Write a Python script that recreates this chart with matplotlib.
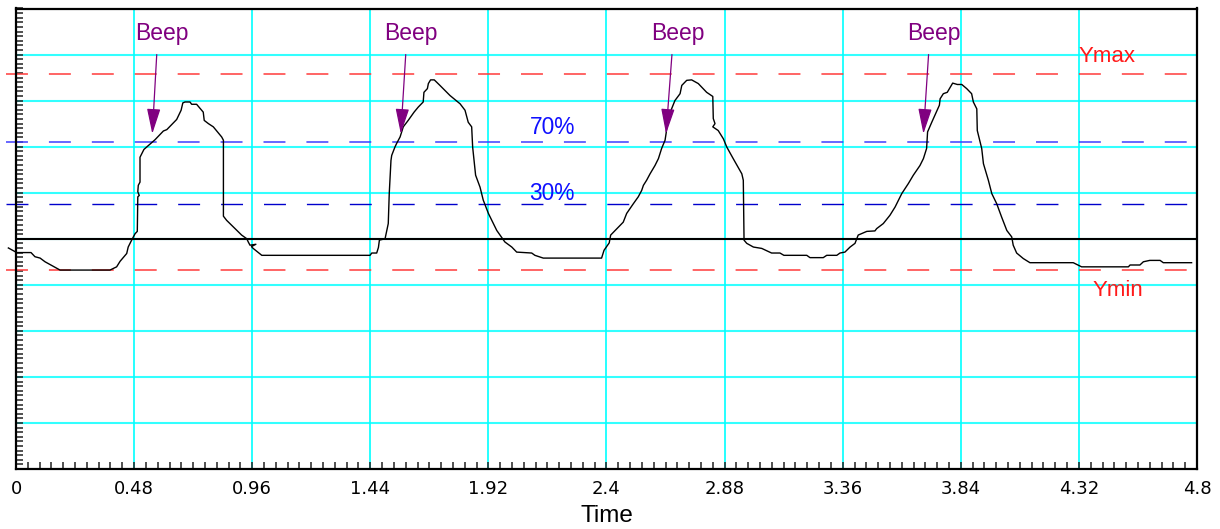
import numpy as np
import matplotlib
matplotlib.use("Agg")
import matplotlib.pyplot as plt
from matplotlib.ticker import MultipleLocator

plt.rcParams["font.family"] = ["Liberation Sans", "DejaVu Sans"]
plt.rcParams["lines.scale_dashes"] = False

# signal trace (time in s, level in screen units 0..10)
time = [
    -0.031, 0.003, 0.061, 0.077, 0.098, 0.118, 0.179, 0.382, 0.409, 0.423,
    0.450, 0.456, 0.470, 0.484, 0.493, 0.495, 0.501, 0.495, 0.497, 0.504,
    0.504, 0.520, 0.565, 0.599, 0.613, 0.653, 0.671, 0.678, 0.687, 0.707,
    0.714, 0.734, 0.761, 0.765, 0.782, 0.802, 0.836, 0.843, 0.843, 0.856,
    0.890, 0.917, 0.938, 0.944, 0.951, 0.975, 0.957, 0.964, 0.999,
    1.439, 1.446, 1.466, 1.473, 1.477, 1.500, 1.507, 1.513, 1.517, 1.524,
    1.527, 1.540, 1.547, 1.561, 1.574, 1.594, 1.618, 1.635, 1.655, 1.658,
    1.672, 1.676, 1.685, 1.700, 1.723, 1.764, 1.805, 1.825, 1.838, 1.852,
    1.856, 1.868, 1.886, 1.899, 1.920, 1.954, 1.987, 2.015, 2.035, 2.096,
    2.109, 2.143, 2.380,
    2.390, 2.411, 2.417, 2.468, 2.482, 2.509, 2.529, 2.543, 2.550, 2.563,
    2.577, 2.597, 2.611, 2.624, 2.638, 2.642, 2.651, 2.678, 2.699, 2.706,
    2.726, 2.746, 2.773, 2.807, 2.832, 2.834, 2.841, 2.832, 2.854, 2.875,
    2.889, 2.915, 2.950, 2.956, 2.959, 2.970, 2.997, 3.031, 3.071, 3.105,
    3.121, 3.214, 3.227, 3.281, 3.295, 3.336, 3.349, 3.369, 3.390, 3.410,
    3.423,
    3.458, 3.491, 3.498, 3.525, 3.552, 3.573, 3.600, 3.627, 3.647, 3.674,
    3.688, 3.701, 3.705, 3.722, 3.753, 3.756, 3.769, 3.785, 3.807, 3.826,
    3.844, 3.864, 3.884, 3.891, 3.905, 3.907, 3.925, 3.932, 3.952, 3.966,
    3.986, 4.006, 4.027, 4.047, 4.053, 4.067, 4.094, 4.121, 4.297, 4.331,
    4.521, 4.528, 4.568, 4.582, 4.608, 4.650, 4.663, 4.778,
]
level = [
    4.80, 4.70, 4.70, 4.61, 4.58, 4.50, 4.32, 4.32, 4.39, 4.51,
    4.68, 4.82, 4.97, 5.11, 5.16, 5.91, 5.94, 6.02, 6.16, 6.23,
    6.77, 6.94, 7.15, 7.34, 7.37, 7.59, 7.79, 7.95, 7.97, 7.97,
    7.92, 7.92, 7.75, 7.57, 7.50, 7.43, 7.21, 7.14, 5.49, 5.40,
    5.22, 5.08, 5.00, 4.93, 4.86, 4.88, 4.83, 4.79, 4.64,
    4.64, 4.69, 4.69, 4.81, 4.97, 5.00, 5.18, 5.33, 5.98, 6.70,
    6.81, 6.99, 7.07, 7.21, 7.43, 7.57, 7.75, 7.86, 7.97, 8.18,
    8.26, 8.37, 8.45, 8.45, 8.33, 8.11, 7.93, 7.79, 7.53, 7.43,
    6.99, 6.38, 6.12, 5.84, 5.55, 5.18, 4.93, 4.82, 4.71, 4.69,
    4.64, 4.58, 4.58,
    4.75, 4.91, 5.08, 5.36, 5.55, 5.76, 5.91, 6.05, 6.16, 6.27,
    6.41, 6.59, 6.74, 6.96, 7.14, 7.28, 7.64, 8.00, 8.15, 8.33,
    8.44, 8.45, 8.37, 8.18, 8.09, 7.61, 7.50, 7.43, 7.35, 7.17,
    6.99, 6.74, 6.41, 6.27, 4.97, 4.90, 4.82, 4.79, 4.69, 4.69,
    4.64, 4.64, 4.59, 4.59, 4.64, 4.64, 4.69, 4.71, 4.82, 4.90,
    5.08,
    5.16, 5.17, 5.22, 5.33, 5.51, 5.69, 5.98, 6.20, 6.38, 6.59,
    6.74, 6.96, 7.32, 7.53, 7.90, 8.04, 8.15, 8.18, 8.38, 8.35,
    8.35, 8.26, 8.15, 7.97, 7.82, 7.35, 6.96, 6.63, 6.27, 5.98,
    5.76, 5.47, 5.18, 5.04, 4.86, 4.69, 4.57, 4.48, 4.48, 4.39,
    4.39, 4.43, 4.43, 4.50, 4.53, 4.53, 4.48, 4.48,
]

# reference levels
Y_MAX = 8.57
Y_70 = 7.11
Y_30 = 5.75
Y_ZERO = 5.0
Y_MIN = 4.32

# beep markers
beep_tip_x = [0.554, 1.564, 2.642, 3.688]
beep_tail_x = [0.572, 1.584, 2.666, 3.709]
beep_text_x = [0.591, 1.605, 2.691, 3.731]
BEEP_TIP_Y = 7.28
BEEP_TAIL_Y = 9.00
BEEP_TEXT_Y = 9.31

x_ticks = [0, 0.48, 0.96, 1.44, 1.92, 2.4, 2.88, 3.36, 3.84, 4.32, 4.8]
x_tick_labels = ["0", "0.48", "0.96", "1.44", "1.92", "2.4", "2.88",
                 "3.36", "3.84", "4.32", "4.8"]

PURPLE = "#800080"
RED = "#ff3b3b"
RED_TEXT = "#ff1a1a"
CYAN = "#00ffff"


def main():
    fig = plt.figure(figsize=(12.2, 5.29), dpi=100)
    ax = fig.add_axes([16 / 1220, 1 - 469 / 529, 1181 / 1220, 460.5 / 529])

    ax.set_xlim(0, 4.8)
    ax.set_ylim(0, 10)

    ax.set_xticks(x_ticks)
    ax.set_xticklabels(x_tick_labels, fontsize=13, family="DejaVu Sans")
    ax.xaxis.set_minor_locator(MultipleLocator(0.048))
    ax.set_yticks(np.arange(0, 11, 1))
    ax.set_yticklabels([])
    ax.yaxis.set_minor_locator(MultipleLocator(0.1))

    ax.tick_params(axis="both", which="both", direction="in",
                   length=5, width=1.1, color="#222222")
    ax.tick_params(axis="x", which="major", pad=8)
    ax.tick_params(top=False, right=False, which="both")

    for side in ["left", "right", "top", "bottom"]:
        ax.spines[side].set_linewidth(1.6)
        ax.spines[side].set_color("black")

    for xv in x_ticks[1:-1]:
        ax.axvline(xv, color=CYAN, lw=1.2, zorder=1)
    for yv in range(1, 10):
        ax.axhline(yv, color=CYAN, lw=1.5, alpha=0.8, zorder=1)

    dash = (0, (15.8, 15.1))
    x_dash = [-0.041, 4.76]
    ax.plot(x_dash, [Y_MAX, Y_MAX], color=RED, lw=1.1, ls=dash, clip_on=False, zorder=2)
    ax.plot(x_dash, [Y_MIN, Y_MIN], color=RED, lw=1.1, ls=dash, clip_on=False, zorder=2)
    ax.plot(x_dash, [Y_70, Y_70], color="#3d3dff", lw=1.1, ls=dash, clip_on=False, zorder=2)
    ax.plot(x_dash, [Y_30, Y_30], color="#0000cc", lw=1.0, ls=dash, clip_on=False, zorder=2)

    ax.axhline(Y_ZERO, color="black", lw=1.5, zorder=3)

    ax.plot(time, level, color="black", lw=1.0, clip_on=False, zorder=4)

    for tip, tail, tx in zip(beep_tip_x, beep_tail_x, beep_text_x):
        ax.annotate(
            "",
            xy=(tip, BEEP_TIP_Y),
            xytext=(tail, BEEP_TAIL_Y),
            arrowprops=dict(
                arrowstyle="-|>,head_length=1.56,head_width=0.42",
                mutation_scale=10,
                color=PURPLE,
                lw=0.9,
                shrinkA=0,
                shrinkB=0,
            ),
            zorder=5,
        )
        ax.text(tx, BEEP_TEXT_Y, "Beep", color=PURPLE, fontsize=16.5,
                ha="center", va="baseline", zorder=6)

    ax.text(4.436, 8.835, "Ymax", color=RED_TEXT, fontsize=16, ha="center", va="baseline")
    ax.text(4.480, 3.75, "Ymin", color=RED_TEXT, fontsize=16, ha="center", va="baseline")
    ax.text(2.179, 7.28, "70%", color="#1010ff", fontsize=16.4, ha="center", va="baseline")
    ax.text(2.179, 5.84, "30%", color="#1010ff", fontsize=16.4, ha="center", va="baseline")

    ax.set_xlabel("Time", fontsize=17.5, labelpad=5)

    fig.savefig("out.png", dpi=100)


if __name__ == "__main__":
    main()
